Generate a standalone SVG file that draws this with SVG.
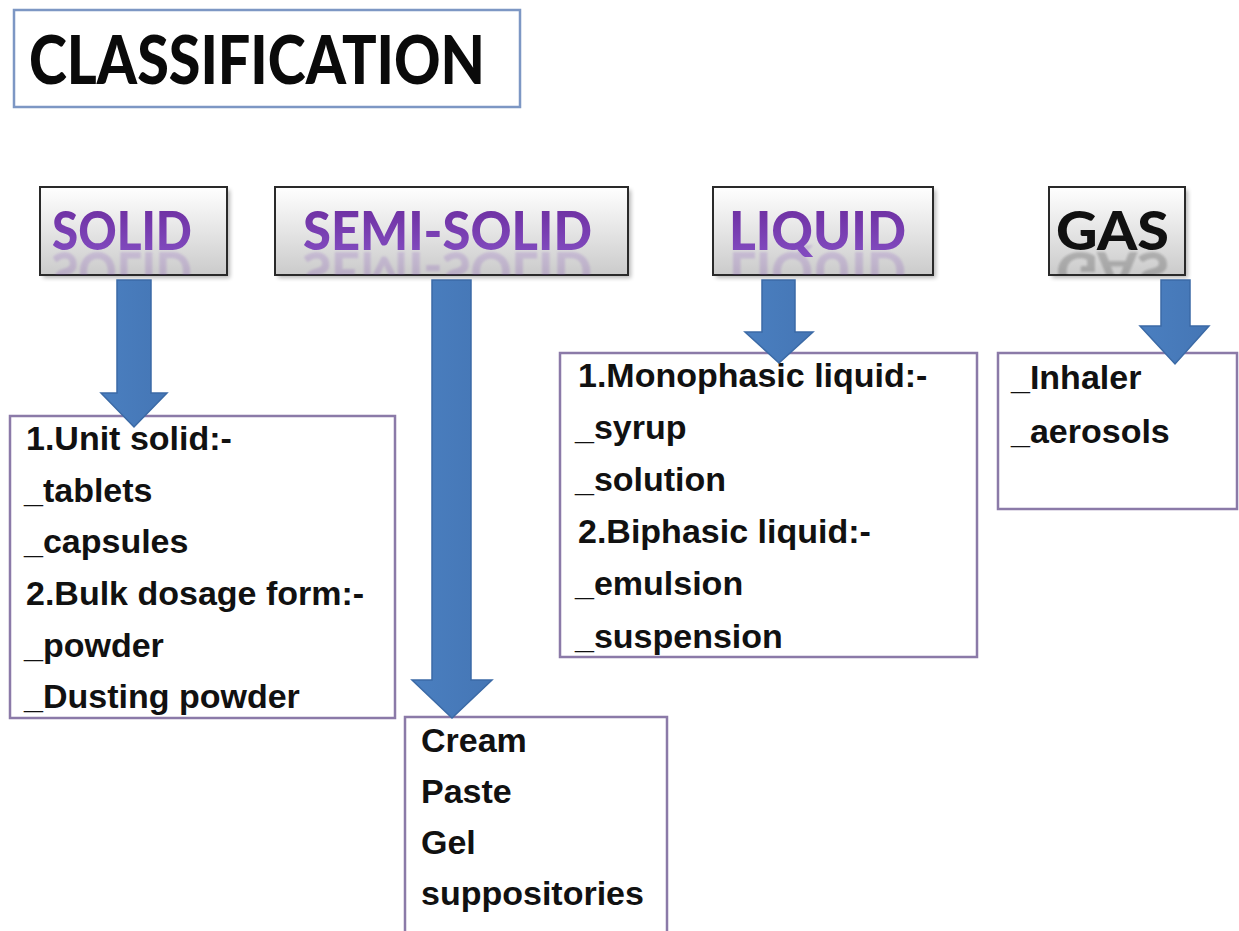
<svg xmlns="http://www.w3.org/2000/svg" xmlns:xlink="http://www.w3.org/1999/xlink" width="1239" height="931" viewBox="0 0 1239 931">
<style>
.hdrbox{fill:url(#hdrGrad);stroke:#2a2a2a;stroke-width:2}
.shadow{fill:#000;opacity:0.28;filter:url(#blur)}
.hdr{font-family:Lato,"Open Sans","Liberation Sans",sans-serif;font-weight:900;font-size:54px}
.purple{fill:url(#purpGrad)}
.refl{opacity:0.2;filter:url(#rblur)}
.cbox{fill:#fff;stroke:#8b7aa8;stroke-width:2.5}
.ct{font-family:"Liberation Sans",Arial,sans-serif;font-weight:700;font-size:34px;fill:#111}
.arrow{fill:url(#arrGrad);stroke:#3b6aa6;stroke-width:1.5}
</style>
<defs>
<linearGradient id="hdrGrad" x1="0" y1="0" x2="0" y2="1">
<stop offset="0" stop-color="#ffffff"/>
<stop offset="1" stop-color="#cbcbcb"/>
</linearGradient>
<linearGradient id="purpGrad" x1="0" y1="0" x2="0" y2="1">
<stop offset="0" stop-color="#6a2a9c"/>
<stop offset="1" stop-color="#8550c4"/>
</linearGradient>
<linearGradient id="arrGrad" x1="0" y1="0" x2="1" y2="0">
<stop offset="0" stop-color="#4a7fc0"/>
<stop offset="1" stop-color="#4576b5"/>
</linearGradient>
<filter id="blur" x="-10%" y="-10%" width="120%" height="120%"><feGaussianBlur stdDeviation="2"/></filter>
<filter id="rblur"><feGaussianBlur stdDeviation="1.2"/></filter>
<clipPath id="cSolid"><rect x="40" y="187" width="187" height="88"/></clipPath>
<clipPath id="cSemi"><rect x="275" y="187" width="353" height="88"/></clipPath>
<clipPath id="cLiq"><rect x="713" y="187" width="220" height="88"/></clipPath>
<clipPath id="cGas"><rect x="1049" y="187" width="136" height="88"/></clipPath>
</defs>
<rect width="1239" height="931" fill="#ffffff"/>

<g id="title">
<rect x="14" y="10" width="506" height="97" fill="#fff" stroke="#7d97c4" stroke-width="2.5"/>
<text x="29" y="84" font-family="Lato,'Open Sans','Liberation Sans',sans-serif" font-weight="900" font-size="66" fill="#0a0a0a" textLength="456" lengthAdjust="spacingAndGlyphs">CLASSIFICATION</text>
</g>

<g id="solid-header">
<rect class="shadow" x="43" y="190" width="187" height="88"/>
<rect class="hdrbox" x="40" y="187" width="187" height="88"/>
<text id="tSolid" class="hdr purple" x="52" y="250" textLength="140" lengthAdjust="spacingAndGlyphs">SOLID</text>
<g clip-path="url(#cSolid)"><use xlink:href="#tSolid" class="refl" transform="translate(0,502) scale(1,-1)"/></g>
</g>

<g id="semisolid-header">
<rect class="shadow" x="278" y="190" width="353" height="88"/>
<rect class="hdrbox" x="275" y="187" width="353" height="88"/>
<text id="tSemi" class="hdr purple" x="303" y="250" textLength="289" lengthAdjust="spacingAndGlyphs">SEMI-SOLID</text>
<g clip-path="url(#cSemi)"><use xlink:href="#tSemi" class="refl" transform="translate(0,502) scale(1,-1)"/></g>
</g>

<g id="liquid-header">
<rect class="shadow" x="716" y="190" width="220" height="88"/>
<rect class="hdrbox" x="713" y="187" width="220" height="88"/>
<text id="tLiq" class="hdr purple" x="729" y="250" textLength="177" lengthAdjust="spacingAndGlyphs">LIQUID</text>
<g clip-path="url(#cLiq)"><use xlink:href="#tLiq" class="refl" transform="translate(0,502) scale(1,-1)"/></g>
</g>

<g id="gas-header">
<rect class="shadow" x="1052" y="190" width="136" height="88"/>
<rect class="hdrbox" x="1049" y="187" width="136" height="88"/>
<text id="tGas" class="hdr" fill="#111" x="1056" y="250" textLength="113" lengthAdjust="spacingAndGlyphs">GAS</text>
<g clip-path="url(#cGas)"><use xlink:href="#tGas" class="refl" transform="translate(0,502) scale(1,-1)"/></g>
</g>

<g id="solid-box">
<rect class="cbox" x="10" y="416" width="385" height="302"/>
<text class="ct" x="26" y="450">1.Unit solid:-</text>
<text class="ct" x="24" y="502">_tablets</text>
<text class="ct" x="24" y="553">_capsules</text>
<text class="ct" x="26" y="605">2.Bulk dosage form:-</text>
<text class="ct" x="24" y="657">_powder</text>
<text class="ct" x="24" y="708">_Dusting powder</text>
</g>

<g id="semisolid-box">
<rect class="cbox" x="405" y="717" width="262" height="230"/>
<text class="ct" x="421" y="752">Cream</text>
<text class="ct" x="421" y="803">Paste</text>
<text class="ct" x="421" y="854">Gel</text>
<text class="ct" x="421" y="905">suppositories</text>
</g>

<g id="liquid-box">
<rect class="cbox" x="560" y="353" width="417" height="304"/>
<text class="ct" x="578" y="387">1.Monophasic liquid:-</text>
<text class="ct" x="575" y="439">_syrup</text>
<text class="ct" x="575" y="491">_solution</text>
<text class="ct" x="578" y="543">2.Biphasic liquid:-</text>
<text class="ct" x="575" y="595">_emulsion</text>
<text class="ct" x="575" y="648">_suspension</text>
</g>

<g id="gas-box">
<rect class="cbox" x="998" y="353" width="239" height="156"/>
<text class="ct" x="1011" y="389">_Inhaler</text>
<text class="ct" x="1011" y="443">_aerosols</text>
</g>

<g id="connectors">
<path class="arrow" d="M117,280 H151 V393 H167 L134,427 L101,393 H117 Z"/>
<path class="arrow" d="M432,280 H471 V680 H492 L452,718 L412,680 H432 Z"/>
<path class="arrow" d="M762,280 H795 V332 H813 L779,363 L745,332 H762 Z"/>
<path class="arrow" d="M1161,280 H1190 V326 H1209 L1175,364 L1140,326 H1161 Z"/>
</g>
</svg>
